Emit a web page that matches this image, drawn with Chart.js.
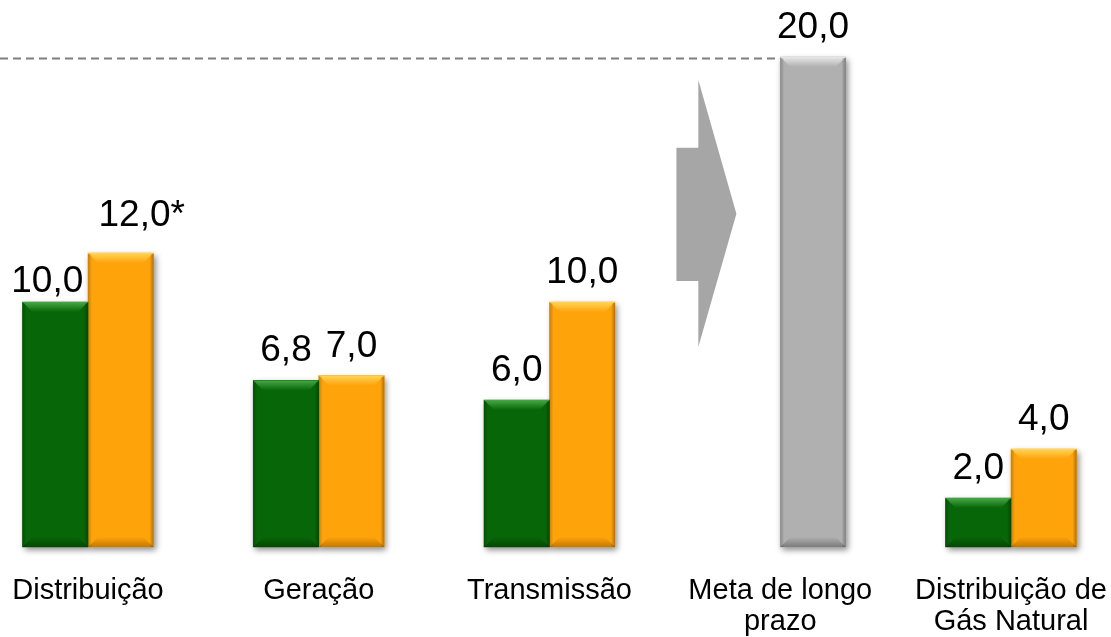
<!DOCTYPE html>
<html>
<head>
<meta charset="utf-8">
<script src="https://cdn.jsdelivr.net/npm/chart.js@4/dist/chart.umd.min.js"></script>
<style>
  html, body { margin: 0; padding: 0; background: #ffffff; }
  #wrap { width: 1111px; height: 637px; }
</style>
</head>
<body>
<div id="wrap"><canvas id="c" width="1111" height="637"></canvas></div>
<script>
// ---- data ----
const categories = ['Distribuição', 'Geração', 'Transmissão', ['Meta de longo', 'prazo'], ['Distribuição de', 'Gás Natural']];
const seriesGreen = [10.0, 6.8, 6.0, null, 2.0];
const seriesOrange = [12.0, 7.0, 10.0, 20.0, 4.0];
const labelsGreen = ['10,0', '6,8', '6,0', null, '2,0'];
const labelsOrange = ['12,0*', '7,0', '10,0', '20,0', '4,0'];
const targetValue = 20.0;

// ---- styles ----
const GREEN = { base: '#076607', light: '#48A848', dark: '#034803' };
const ORANGE = { base: '#FFA30B', light: '#FFD659', dark: '#C47A00' };
const GRAY = { base: '#B0B0B0', light: '#E8E8E8', dark: '#7C7C7C' };
const orangePalette = seriesOrange.map((v, i) => i === 3 ? GRAY : ORANGE);
const FONT = '"Liberation Sans", Arial, Helvetica, sans-serif';
// manual nudges of individual value labels (dataset-index: [dx, dy] in px)
const LABEL_NUDGE = { '0-0': [-8, 9], '1-0': [21, -8] };

const decorPlugin = {
  id: 'decor',
  beforeDatasetsDraw(chart) {
    const ctx = chart.ctx;
    const xs = chart.scales.x, ys = chart.scales.y;
    // dashed target line up to the target bar
    const metaO = chart.getDatasetMeta(1);
    const tgt = metaO.data[3].getProps(['x', 'y', 'width'], true);
    const yT = ys.getPixelForValue(targetValue) + 1.5;
    ctx.save();
    ctx.strokeStyle = '#7F7F7F';
    ctx.lineWidth = 2;
    ctx.setLineDash([8, 5]);
    ctx.beginPath();
    ctx.moveTo(0, yT);
    ctx.lineTo(tgt.x - tgt.width / 2, yT);
    ctx.stroke();
    ctx.restore();

    // arrow between Transmissão and Meta
    const x2 = xs.getPixelForValue(2), x3 = xs.getPixelForValue(3);
    const fx = f => x2 + (x3 - x2) * f;
    const py = v => ys.getPixelForValue(v);
    ctx.save();
    ctx.fillStyle = '#A6A6A6';
    ctx.beginPath();
    ctx.moveTo(fx(0.55), py(16.3));
    ctx.lineTo(fx(0.645), py(16.3));
    ctx.lineTo(fx(0.645), py(19.06));
    ctx.lineTo(fx(0.81), py(13.6));
    ctx.lineTo(fx(0.645), py(8.16));
    ctx.lineTo(fx(0.645), py(10.86));
    ctx.lineTo(fx(0.55), py(10.86));
    ctx.closePath();
    ctx.fill();
    ctx.restore();

    // shadows under bars
    chart.data.datasets.forEach((ds, di) => {
      chart.getDatasetMeta(di).data.forEach((el, i) => {
        if (ds.data[i] == null) return;
        const p = el.getProps(['x', 'y', 'base', 'width'], true);
        ctx.save();
        ctx.shadowColor = 'rgba(0,0,0,0.45)';
        ctx.shadowBlur = 6;
        ctx.shadowOffsetX = 2;
        ctx.shadowOffsetY = 3;
        ctx.fillStyle = '#999';
        ctx.fillRect(p.x - p.width / 2, p.y, p.width, p.base - p.y);
        ctx.restore();
      });
    });
  },
  afterDatasetsDraw(chart) {
    const ctx = chart.ctx;
    const pals = [seriesGreen.map(() => GREEN), orangePalette];
    const labs = [labelsGreen, labelsOrange];
    chart.data.datasets.forEach((ds, di) => {
      chart.getDatasetMeta(di).data.forEach((el, i) => {
        if (ds.data[i] == null) return;
        const p = el.getProps(['x', 'y', 'base', 'width'], true);
        const pal = pals[di][i];
        const l = p.x - p.width / 2, r = p.x + p.width / 2, t = p.y, b = p.base;
        const bv = 10, sv = 4;
        ctx.save();
        // top bevel
        let g = ctx.createLinearGradient(0, t, 0, t + bv);
        g.addColorStop(0, pal.light);
        g.addColorStop(1, pal.base);
        ctx.fillStyle = g;
        ctx.beginPath();
        ctx.moveTo(l, t); ctx.lineTo(r, t); ctx.lineTo(r - bv, t + bv); ctx.lineTo(l + bv, t + bv); ctx.closePath();
        ctx.fill();
        // bottom bevel
        g = ctx.createLinearGradient(0, b, 0, b - bv);
        g.addColorStop(0, pal.dark);
        g.addColorStop(1, pal.base);
        ctx.fillStyle = g;
        ctx.beginPath();
        ctx.moveTo(l, b); ctx.lineTo(r, b); ctx.lineTo(r - bv, b - bv); ctx.lineTo(l + bv, b - bv); ctx.closePath();
        ctx.fill();
        // side shading
        g = ctx.createLinearGradient(l, 0, l + sv, 0);
        g.addColorStop(0, 'rgba(0,0,0,0.22)');
        g.addColorStop(1, 'rgba(0,0,0,0)');
        ctx.fillStyle = g;
        ctx.fillRect(l, t + 1, sv, b - t - 1);
        g = ctx.createLinearGradient(r, 0, r - sv, 0);
        g.addColorStop(0, 'rgba(0,0,0,0.3)');
        g.addColorStop(1, 'rgba(0,0,0,0)');
        ctx.fillStyle = g;
        ctx.fillRect(r - sv, t + 1, sv, b - t - 1);
        ctx.restore();

        // value label
        const txt = labs[di][i];
        if (txt) {
          const nudge = LABEL_NUDGE[di + '-' + i] || [0, 0];
          ctx.save();
          ctx.font = '37px ' + FONT;
          ctx.fillStyle = '#000000';
          ctx.textBaseline = 'alphabetic';
          ctx.textAlign = 'center';
          ctx.fillText(txt, p.x + nudge[0], t - 19 + nudge[1]);
          ctx.restore();
        }
      });
    });
  }
};

new Chart(document.getElementById('c'), {
  type: 'bar',
  data: {
    labels: categories,
    datasets: [
      {
        data: seriesGreen,
        backgroundColor: GREEN.base,
        borderWidth: 0,
        barThickness: 65.5,
        clip: false
      },
      {
        data: seriesOrange,
        backgroundColor: orangePalette.map(p => p.base),
        borderWidth: 0,
        barThickness: 65.5,
        clip: false
      }
    ]
  },
  options: {
    responsive: false,
    devicePixelRatio: 1,
    animation: false,
    layout: { padding: { left: 88, right: 100, top: 57, bottom: 0 } },
    plugins: {
      legend: { display: false },
      title: { display: false },
      tooltip: { enabled: false }
    },
    scales: {
      x: {
        offset: false,
        grid: { display: true, color: 'rgba(0,0,0,0)', drawOnChartArea: false, drawTicks: true, tickLength: 28 },
        border: { display: false },
        ticks: {
          autoSkip: false,
          maxRotation: 0,
          minRotation: 0,
          padding: 0,
          color: '#000000',
          font: { family: FONT, size: 29, lineHeight: 1.07 }
        },
        afterFit(scale) { scale.height = 90; }
      },
      y: {
        display: false,
        min: 0,
        max: 20
      }
    }
  },
  plugins: [decorPlugin]
});
</script>
</body>
</html>
